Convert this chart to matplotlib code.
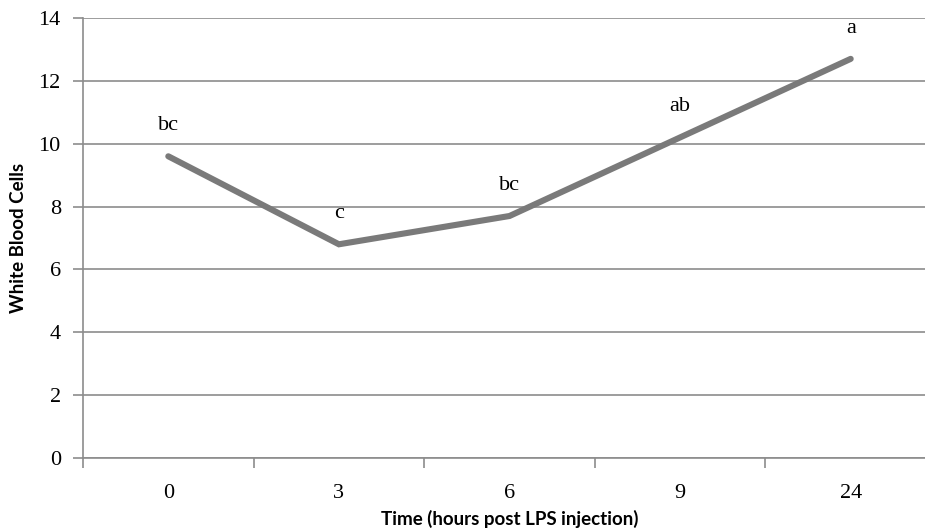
import matplotlib.pyplot as plt
from matplotlib.ticker import FixedLocator, NullFormatter

categories = ["0", "3", "6", "9", "24"]
wbc = [9.6, 6.8, 7.7, 10.2, 12.7]
letters = ["bc", "c", "bc", "ab", "a"]

serif = ["Liberation Serif", "DejaVu Serif"]
sans = ["Lato", "DejaVu Sans"]

fig = plt.figure(figsize=(9.25, 5.31), dpi=100)
ax = fig.add_axes([83 / 925, 1 - 458 / 531, (936 - 83) / 925, (458 - 18) / 531])

pos = list(range(len(categories)))
ax.plot(pos, wbc, color="#7a7a7a", lw=4.4, solid_joinstyle="miter", solid_capstyle="round", zorder=3)
for x, y, t in zip(pos, wbc, letters):
    ax.annotate(t, (x, y), xytext=(0, 22), textcoords="offset points",
                ha="center", va="center", fontsize=16, family=serif)

ax.set_xlim(-0.5, len(categories) - 0.5)
ax.set_ylim(0, 14)
ax.set_yticks(range(0, 15, 2))
ax.grid(axis="y", color="#8c8c8c", lw=1.2)
ax.set_axisbelow(True)

ax.set_xticks(pos)
ax.set_xticklabels(categories, family=serif, fontsize=16)
ax.xaxis.set_minor_locator(FixedLocator([p - 0.5 for p in pos] + [len(pos) - 0.5]))
ax.xaxis.set_minor_formatter(NullFormatter())
ax.tick_params(axis="x", which="major", length=0, pad=19)
ax.tick_params(axis="x", which="minor", length=7, color="#8c8c8c", width=1.2)
ax.tick_params(axis="y", length=7, color="#8c8c8c", width=1.2, pad=9, labelsize=16)
for lbl in ax.get_yticklabels():
    lbl.set_family(serif)

for s in ["top", "right"]:
    ax.spines[s].set_visible(False)
for s in ["left", "bottom"]:
    ax.spines[s].set_color("#8c8c8c")
    ax.spines[s].set_linewidth(1.2)

ax.set_xlabel("Time (hours post LPS injection)", family=sans, fontweight="bold", fontsize=13.5, labelpad=5)
ax.set_ylabel("White Blood Cells", family=sans, fontweight="bold", fontsize=13.5, labelpad=8)

fig.savefig("out.png", dpi=100)
